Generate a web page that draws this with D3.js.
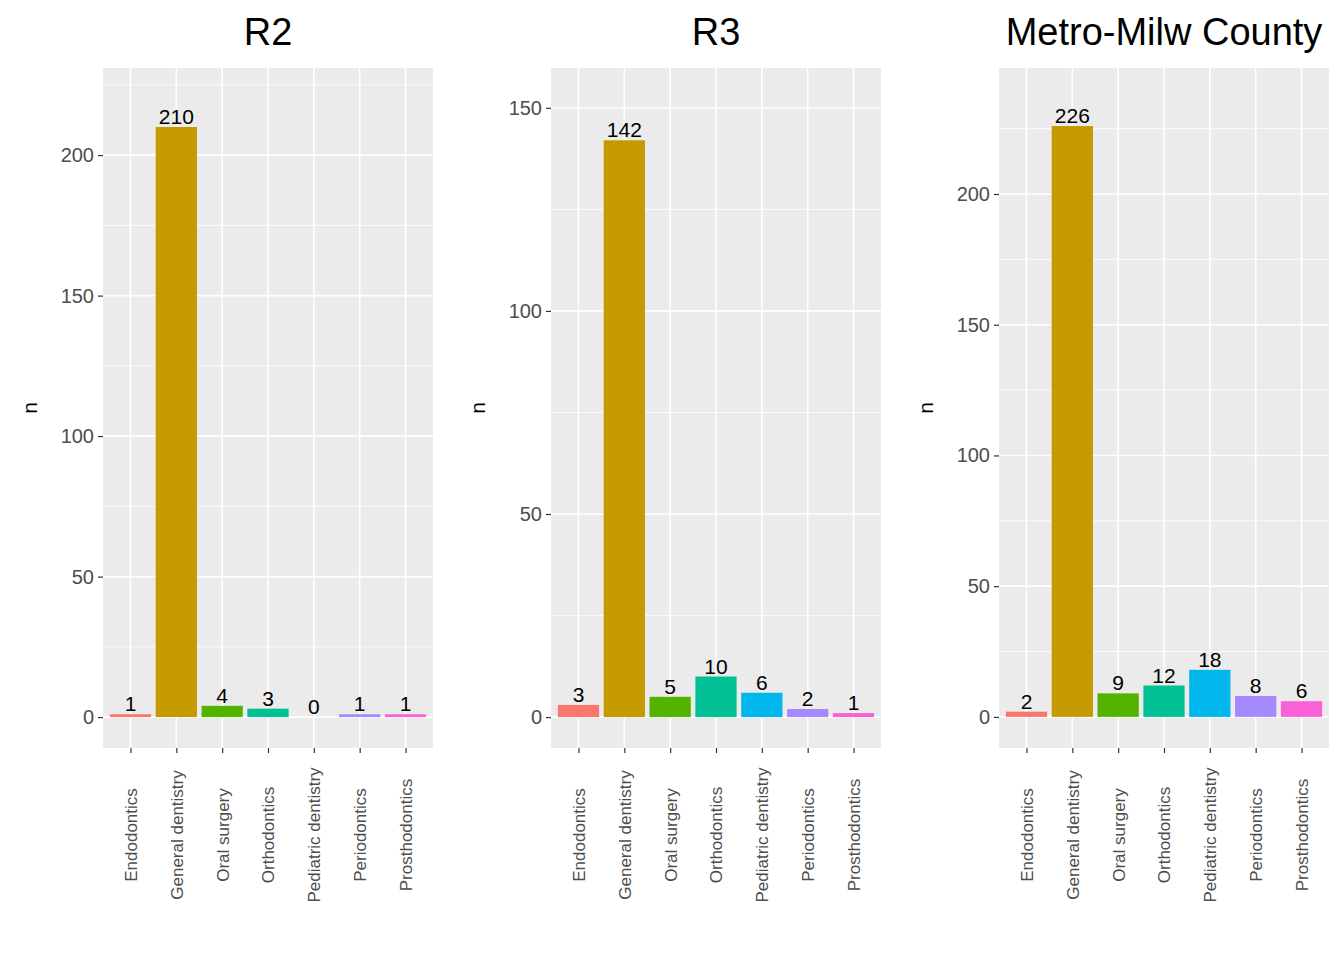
<!DOCTYPE html>
<html><head><meta charset="utf-8">
<script src="https://cdn.jsdelivr.net/npm/d3@7"></script>
<style>body{margin:0;background:#fff}text{font-family:Arial,"Liberation Sans",sans-serif}</style>
</head><body>
<svg id="chart" width="1344" height="960"></svg>
<script>
// Data
var categories = ["Endodontics", "General dentistry", "Oral surgery", "Orthodontics",
  "Pediatric dentistry", "Periodontics", "Prosthodontics"];
var panelTitles = ["R2", "R3", "Metro-Milw County"];
var valuesR2 = [1, 210, 4, 3, 0, 1, 1];
var valuesR3 = [3, 142, 5, 10, 6, 2, 1];
var valuesMetro = [2, 226, 9, 12, 18, 8, 6];
var ticksR2 = [0, 50, 100, 150, 200];
var ticksR3 = [0, 50, 100, 150];
var ticksMetro = [0, 50, 100, 150, 200];
var colors = ["#F8766D", "#C49A00", "#53B400", "#00C094", "#00B6EB", "#A58AFF", "#FB61D7"];

var svg = d3.select("#chart");

var panels = [
  {title: panelTitles[0], values: valuesR2, ticks: ticksR2, left: 103, domain: [-11, 231], minorStep: 25},
  {title: panelTitles[1], values: valuesR3, ticks: ticksR3, left: 551, domain: [-7.6, 159.8], minorStep: 25},
  {title: panelTitles[2], values: valuesMetro, ticks: ticksMetro, left: 999, domain: [-11.9, 248.2], minorStep: 25}
];
var plotTop = 68, plotBottom = 748, pw = 330;

panels.forEach(function (p) {
  var g = svg.append("g");
  var x = d3.scaleLinear().domain([-0.6, 6.6]).range([p.left, p.left + pw]);
  var y = d3.scaleLinear().domain(p.domain).range([plotBottom, plotTop]);

  g.append("rect").attr("x", p.left).attr("y", plotTop).attr("width", pw)
    .attr("height", plotBottom - plotTop).attr("fill", "#EBEBEB");

  // minor grid
  var minors = d3.range(p.minorStep, p.domain[1], p.minorStep * 2);
  g.selectAll(".minor").data(minors).enter().append("line")
    .attr("x1", p.left).attr("x2", p.left + pw)
    .attr("y1", function (d) { return y(d); }).attr("y2", function (d) { return y(d); })
    .attr("stroke", "#fff").attr("stroke-width", 0.8);
  // major grid
  g.selectAll(".major").data(p.ticks).enter().append("line")
    .attr("x1", p.left).attr("x2", p.left + pw)
    .attr("y1", function (d) { return y(d); }).attr("y2", function (d) { return y(d); })
    .attr("stroke", "#fff").attr("stroke-width", 1.6);
  g.selectAll(".vgrid").data(categories).enter().append("line")
    .attr("x1", function (d, i) { return x(i); }).attr("x2", function (d, i) { return x(i); })
    .attr("y1", plotTop).attr("y2", plotBottom)
    .attr("stroke", "#fff").attr("stroke-width", 1.6);

  // bars
  g.selectAll(".bar").data(p.values).enter().append("rect")
    .attr("x", function (d, i) { return x(i - 0.45); })
    .attr("width", x(0.45) - x(-0.45))
    .attr("y", function (d) { return y(d); })
    .attr("height", function (d) { return y(0) - y(d); })
    .attr("fill", function (d, i) { return colors[i]; });

  // value labels
  g.selectAll(".lab").data(p.values).enter().append("text")
    .attr("x", function (d, i) { return x(i); })
    .attr("y", function (d) { return y(d) - 3; })
    .attr("text-anchor", "middle").attr("font-size", 21).attr("fill", "#000")
    .text(function (d) { return d; });

  // y axis
  var ya = g.append("g").attr("transform", "translate(" + p.left + ",0)")
    .call(d3.axisLeft(y).tickValues(p.ticks).tickSize(5).tickPadding(4));
  ya.select(".domain").remove();
  ya.selectAll("line").attr("stroke", "#333").attr("stroke-width", 1.2);
  ya.selectAll("text").attr("font-size", 20).attr("fill", "#4D4D4D")
    .style("font-family", "Arial, 'Liberation Sans', sans-serif");

  // x axis
  var xa = g.append("g").attr("transform", "translate(0," + plotBottom + ")")
    .call(d3.axisBottom(x).tickValues(d3.range(7)).tickSize(5)
      .tickFormat(function (i) { return categories[i]; }));
  xa.select(".domain").remove();
  xa.selectAll("line").attr("stroke", "#333").attr("stroke-width", 1.2);
  xa.selectAll("text").attr("font-size", 17).attr("fill", "#4D4D4D")
    .style("font-family", "Arial, 'Liberation Sans', sans-serif")
    .attr("transform", "rotate(-90)").attr("text-anchor", "middle")
    .attr("x", -87).attr("y", 0).attr("dy", "0.35em");

  // axis title
  g.append("text").attr("transform", "translate(" + (p.left - 66) + "," + ((plotTop + plotBottom) / 2) + ") rotate(-90)")
    .attr("text-anchor", "middle").attr("font-size", 21).text("n");

  // panel title
  g.append("text").attr("x", p.left + pw / 2).attr("y", 45)
    .attr("text-anchor", "middle").attr("font-size", 38).text(p.title);
});
</script>
</body></html>
